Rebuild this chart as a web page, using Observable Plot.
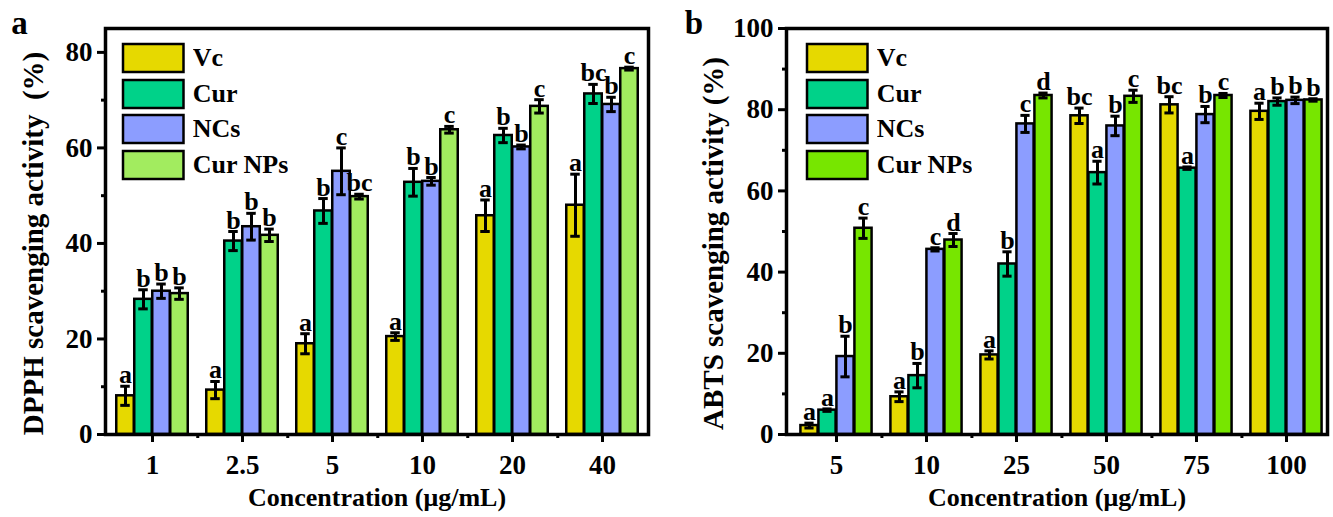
<!DOCTYPE html>
<html><head><meta charset="utf-8">
<script src="https://cdn.jsdelivr.net/npm/d3@7"></script>
<script src="https://cdn.jsdelivr.net/npm/@observablehq/plot@0.6"></script>
<style>
html,body{margin:0;padding:0;background:#fff;}
#wrap{position:relative;width:1333px;height:517px;overflow:hidden;}
.panel{position:absolute;top:0;height:517px;}
.panel svg text{white-space:pre;}
.lgd{position:absolute;top:40.5px;}
.lgd > div{margin:0 !important;font-family:"Liberation Serif","Times New Roman",serif !important;font-weight:bold !important;font-size:26px !important;color:#000 !important;columns:auto !important;}
.lgd [class$="-swatch"]{display:flex !important;align-items:center !important;height:35.5px !important;margin:0 !important;padding:0 !important;}
.lgd svg{width:60.5px !important;height:28px !important;overflow:visible !important;margin:0 9px 0 0 !important;flex-shrink:0;}
.lgd svg rect{stroke:#000;stroke-width:2.5px;}
</style></head><body>
<div id="wrap">
  <div class="panel" id="pa" style="left:0;width:666px"></div>
  <div class="panel" id="pb" style="left:666px;width:667px"></div>
</div>
<script>
// ---------- data ----------
const series = ["Vc", "Cur", "NCs", "Cur NPs"];
const colorsA = ["#e6d900", "#00d289", "#8c9dff", "#a2ec5f"];
const colorsB = ["#e6d900", "#00d289", "#8c9dff", "#77e600"];

// Panel a: DPPH
const dpphConc = ["1", "2.5", "5", "10", "20", "40"];
const dpphVc      = [8.1, 9.3, 19.0, 20.5, 45.8, 48.0];
const dpphVcErr   = [2.0, 1.8, 2.1, 0.8, 3.3, 6.5];
const dpphVcSig   = ["a", "a", "a", "a", "a", "a"];
const dpphCur     = [28.3, 40.5, 46.8, 52.8, 62.6, 71.3];
const dpphCurErr  = [2.0, 2.0, 2.6, 2.9, 1.5, 2.0];
const dpphCurSig  = ["b", "b", "b", "b", "b", "bc"];
const dpphNCs     = [30.0, 43.5, 55.1, 53.0, 60.2, 69.1];
const dpphNCsErr  = [1.5, 2.8, 4.9, 0.8, 0.4, 1.5];
const dpphNCsSig  = ["b", "b", "c", "b", "b", "b"];
const dpphNPs     = [29.5, 41.7, 49.8, 63.8, 68.7, 76.6];
const dpphNPsErr  = [1.2, 1.3, 0.5, 0.7, 1.4, 0.3];
const dpphNPsSig  = ["b", "b", "bc", "c", "c", "c"];
const dpphTicks = [0, 20, 40, 60, 80];
const dpphMinor = [10, 30, 50, 70];

// Panel b: ABTS
const abtsConc = ["5", "10", "25", "50", "75", "100"];
const abtsVc      = [2.2, 9.3, 19.6, 78.5, 81.2, 79.6];
const abtsVcErr   = [0.6, 1.2, 1.0, 1.9, 2.0, 2.0];
const abtsVcSig   = ["a", "a", "a", "bc", "bc", "a"];
const abtsCur     = [6.0, 14.5, 42.0, 64.5, 65.6, 82.0];
const abtsCurErr  = [0.3, 3.0, 3.0, 2.8, 0.3, 0.9];
const abtsCurSig  = ["a", "b", "b", "a", "a", "b"];
const abtsNCs     = [19.2, 45.6, 76.5, 76.0, 78.8, 82.3];
const abtsNCsErr  = [5.0, 0.4, 2.1, 2.4, 2.0, 0.8];
const abtsNCsSig  = ["b", "c", "c", "b", "b", "b"];
const abtsNPs     = [50.8, 47.9, 83.5, 83.3, 83.5, 82.4];
const abtsNPsErr  = [2.5, 1.6, 0.6, 1.5, 0.5, 0.3];
const abtsNPsSig  = ["c", "d", "d", "c", "c", "b"];
const abtsTicks = [0, 20, 40, 60, 80, 100];
const abtsMinor = [10, 30, 50, 70, 90];

const xTitle = "Concentration (\u03bcg/mL)";
const FONT = "'Liberation Serif','Times New Roman',serif";

function panel(o) {
  const H = 517, mt = 28, mb = 83;
  const n = o.conc.length;
  const step = (o.width - o.ml - o.mr - o.insetL - o.insetR) / n;
  const barW = 18, capW = 10;
  const gOff = (step - series.length * barW) / 2;
  const bars = [], errs = [], texts = [];
  series.forEach((s, i) => {
    const rows = o.conc.map((c, j) => ({c, s, v: o.vals[i][j], e: o.errs[i][j], sig: o.sigs[i][j]}));
    const left = gOff + i * barW, right = step - left - barW;
    const center = left + barW / 2;
    bars.push(Plot.barY(rows, {x: "c", y: "v", fill: o.colors[i], stroke: "#000", strokeWidth: 2.5, insetLeft: left, insetRight: right}));
    errs.push(Plot.ruleX(rows, {x: "c", y1: d => d.v - d.e, y2: d => d.v + d.e, dx: center - step / 2, stroke: "#000", strokeWidth: 3}));
    errs.push(Plot.tickY(rows, {x: "c", y: d => d.v + d.e, insetLeft: center - capW / 2, insetRight: step - center - capW / 2, stroke: "#000", strokeWidth: 3}));
    errs.push(Plot.tickY(rows, {x: "c", y: d => d.v - d.e, insetLeft: center - capW / 2, insetRight: step - center - capW / 2, stroke: "#000", strokeWidth: 3}));
    texts.push(Plot.text(rows, {x: "c", y: d => d.v + d.e, text: "sig", dx: center - step / 2, dy: -3, lineAnchor: "bottom", fontSize: 26, fontWeight: "bold", fill: "#000"}));
  });
  const chart = Plot.plot({
    width: o.width, height: H,
    marginLeft: o.ml, marginRight: o.mr, marginTop: mt, marginBottom: mb,
    style: {fontFamily: FONT, fontWeight: "bold", color: "#000", background: "transparent", overflow: "visible"},
    x: {type: "band", domain: o.conc, padding: 0, insetLeft: o.insetL, insetRight: o.insetR, axis: null},
    y: {domain: [0, o.yMax], axis: null},
    marks: [
      ...bars, ...errs, ...texts,
      Plot.axisY(o.yTicks, {tickSize: 8, tickPadding: 5, strokeWidth: 3, fontSize: 27, fontWeight: "bold", label: null}),
      Plot.axisY(o.yMinor, {tickSize: 4, text: null, strokeWidth: 3, label: null}),
      Plot.axisX(o.conc, {tickSize: 8, tickPadding: 12, strokeWidth: 3, fontSize: 27, fontWeight: "bold", label: null}),
      Plot.axisX(o.conc.slice(0, -1), {tickSize: 4, text: null, dx: step / 2, strokeWidth: 3, label: null}),
      Plot.frame({stroke: "#000", strokeWidth: 3.5}),
      Plot.text([o.yTitle], {frameAnchor: "left", textAnchor: "middle", lineAnchor: "middle", rotate: -90, dx: o.yDx, dy: 12, fontSize: 29, fontWeight: "bold", fill: "#000"}),
      Plot.text([xTitle], {frameAnchor: "bottom", textAnchor: "middle", lineAnchor: "middle", dy: 63, fontSize: 26, fontWeight: "bold", fill: "#000"}),
      Plot.text([o.tag], {frameAnchor: "top-left", textAnchor: "middle", lineAnchor: "bottom", dx: o.tagDx, dy: 5, fontSize: 33, fontWeight: "bold", fill: "#000"})
    ]
  });
  const el = document.getElementById(o.el);
  el.appendChild(chart);
  const lg = Plot.legend({color: {type: "ordinal", domain: series, range: o.colors}, legend: "swatches", columns: 1, swatchWidth: 60, swatchHeight: 28, className: "lg" + o.el});
  const box = document.createElement("div");
  box.className = "lgd";
  box.style.left = o.legendLeft + "px";
  box.appendChild(lg);
  el.appendChild(box);
}

panel({el: "pa", width: 666, ml: 105, mr: 18, insetL: 0, insetR: 0, conc: dpphConc,
  vals: [dpphVc, dpphCur, dpphNCs, dpphNPs], errs: [dpphVcErr, dpphCurErr, dpphNCsErr, dpphNPsErr],
  sigs: [dpphVcSig, dpphCurSig, dpphNCsSig, dpphNPsSig], colors: colorsA, yMax: 85,
  yTicks: dpphTicks, yMinor: dpphMinor, yTitle: "DPPH scavenging activity  (%)", yDx: -72,
  tag: "a", tagDx: -86, legendLeft: 123.25});

panel({el: "pb", width: 667, ml: 120, mr: 6, insetL: 2, insetR: -6, conc: abtsConc,
  vals: [abtsVc, abtsCur, abtsNCs, abtsNPs], errs: [abtsVcErr, abtsCurErr, abtsNCsErr, abtsNPsErr],
  sigs: [abtsVcSig, abtsCurSig, abtsNCsSig, abtsNPsSig], colors: colorsB, yMax: 100,
  yTicks: abtsTicks, yMinor: abtsMinor, yTitle: "ABTS scavenging activity (%)", yDx: -73,
  tag: "b", tagDx: -92.5, legendLeft: 141.25});
</script>
</body></html>
